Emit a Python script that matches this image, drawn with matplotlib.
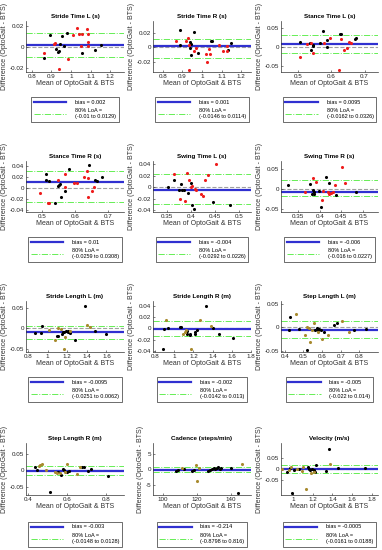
import matplotlib
matplotlib.use("Agg")
import matplotlib.pyplot as plt
from matplotlib.lines import Line2D

# ---------------- data ----------------
titles = ["Stride Time L (s)", "Stride Time R (s)", "Stance Time L (s)",
          "Stance Time R (s)", "Swing Time L (s)", "Swing Time R (s)",
          "Stride Length L (m)", "Stride Length R (m)", "Step Length L (m)",
          "Step Length R (m)", "Cadence (steps/min)", "Velocity (m/s)"]

bias = [0.002, 0.001, 0.0095, 0.01, -0.004, -0.006,
        -0.0095, -0.002, -0.005, -0.003, -0.214, -0.0005]
loa_low = [-0.01, -0.0146, -0.0162, -0.0259, -0.0292, -0.016,
           -0.0251, -0.0142, -0.022, -0.0148, -0.8798, -0.0161]
loa_high = [0.0129, 0.0114, 0.0326, 0.0308, 0.0226, 0.0227,
            0.0062, 0.013, 0.014, 0.0128, 0.816, 0.0188]
bias_txt = ["0.002", "0.001", "0.0095", "0.01", "-0.004", "-0.006",
            "-0.0095", "-0.002", "-0.005", "-0.003", "-0.214", "-0.0005"]
loa_txt = ["(-0.01 to 0.0129)", "(-0.0146 to 0.0114)", "(-0.0162 to 0.0326)",
           "(-0.0259 to 0.0308)", "(-0.0292 to 0.0226)", "(-0.016 to 0.0227)",
           "(-0.0251 to 0.0062)", "(-0.0142 to 0.013)", "(-0.022 to 0.014)",
           "(-0.0148 to 0.0128)", "(-0.8798 to 0.816)", "(-0.0161 to 0.0188)"]

# Stride Time L
stl_kx = [0.894, 0.861, 0.924, 0.933, 0.938, 0.941, 0.955, 0.962, 0.977, 1.057, 1.120, 1.152]
stl_ky = [0.011, -0.011, -0.002, -0.005, -0.004, 0.003, 0.010, 0.0006, 0.0127, -0.0057, -0.003, 0.0013]
stl_cx = [0.861, 0.914, 0.919, 0.938, 0.984, 1.009, 1.030, 1.040, 1.057, 1.050, 1.081, 1.088, 1.088, 1.088]
stl_cy = [-0.006, 0.003, 0.004, -0.0216, -0.0117, 0.0114, 0.0178, 0.012, 0.012, 0.0006, 0.0165, 0.0117, 0.005, 0.0006]
# Stride Time R
str_kx = [0.889, 0.886, 0.940, 0.943, 0.937, 0.945, 0.959, 0.982, 1.044, 1.049, 1.135, 1.150]
str_ky = [0.023, 0.0027, 0.0068, 0.0045, -0.001, -0.0105, 0.0205, -0.008, 0.009, 0.008, -0.0036, 0.0055]
str_cx = [0.868, 0.930, 0.919, 0.935, 0.935, 0.957, 0.971, 1.021, 1.023, 1.039, 1.037, 1.088, 1.109, 1.125, 1.126]
str_cy = [0.009, 0.0127, 0.008, 0.003, -0.031, -0.0045, -0.0014, -0.009, -0.020, -0.009, -0.002, 0.003, -0.0055, -0.0055, 0.002]
# Stance Time L
sal_kx = [0.508, 0.537, 0.541, 0.546, 0.547, 0.566, 0.577, 0.588, 0.589, 0.626, 0.630, 0.672, 0.675]
sal_ky = [0.0125, 0.0098, -0.008, 0.0018, 0.005, 0.0098, 0.043, 0.018, 0.0, 0.036, 0.034, 0.022, 0.025]
sal_cx = [0.506, 0.527, 0.541, 0.547, 0.578, 0.597, 0.622, 0.628, 0.639, 0.647, 0.654, 0.660]
sal_cy = [-0.027, 0.007, 0.0116, -0.016, 0.0098, 0.024, -0.061, 0.0205, -0.009, -0.0036, 0.013, 0.011]
# Stance Time R
sar_kx = [0.510, 0.512, 0.521, 0.540, 0.547, 0.552, 0.554, 0.558, 0.570, 0.581, 0.644, 0.660, 0.667, 0.684]
sar_ky = [0.0255, 0.0145, 0.013, -0.027, 0.003, 0.0048, 0.0067, -0.016, -0.005, 0.0345, 0.041, 0.014, 0.012, 0.020]
sar_cx = [0.494, 0.516, 0.521, 0.547, 0.568, 0.569, 0.596, 0.607, 0.627, 0.640, 0.638, 0.640, 0.651, 0.657]
sar_cy = [-0.009, -0.028, -0.028, 0.015, 0.002, 0.0255, 0.008, 0.0097, 0.019, 0.018, 0.031, -0.017, -0.0055, 0.002]
# Swing Time L
swl_kx = [0.351, 0.364, 0.375, 0.378, 0.381, 0.384, 0.393, 0.400, 0.401, 0.405, 0.445, 0.481]
swl_ky = [0.001, 0.0126, -0.004, 0.005, -0.004, -0.005, -0.010, 0.008, -0.030, -0.038, -0.025, -0.031]
swl_cx = [0.364, 0.377, 0.387, 0.392, 0.396, 0.402, 0.399, 0.407, 0.410, 0.421, 0.424, 0.429, 0.435, 0.451]
swl_cy = [0.023, -0.0206, -0.0246, 0.0246, 0.013, 0.003, 0.0, -0.0034, -0.005, -0.011, -0.0154, 0.013, 0.0217, 0.040]
# Swing Time R
swr_kx = [0.326, 0.377, 0.384, 0.381, 0.387, 0.386, 0.399, 0.402, 0.414, 0.421, 0.438, 0.483]
swr_ky = [0.0098, 0.014, -0.003, -0.012, -0.006, -0.011, -0.004, -0.045, 0.032, 0.015, -0.015, -0.008]
swr_cx = [0.366, 0.385, 0.392, 0.405, 0.407, 0.419, 0.422, 0.427, 0.430, 0.436, 0.451, 0.458]
swr_cy = [-0.0057, 0.028, 0.019, -0.027, -0.004, -0.006, -0.011, -0.009, -0.006, 0.012, 0.057, 0.016]
# Stride Length L
sll_kx = [0.876, 0.929, 0.946, 1.096, 1.106, 1.143, 1.156, 1.169, 1.189, 1.205, 1.212, 1.232, 1.282, 1.379, 1.488, 1.598]
sll_ky = [-0.0115, -0.0115, 0.005, -0.020, -0.018, -0.013, -0.009, -0.010, -0.0065, -0.0065, -0.009, -0.0115, -0.028, 0.054, -0.0065, -0.0146]
sll_cx = [1.016, 1.072, 1.102, 1.136, 1.176, 1.169, 1.225, 1.399, 1.432]
sll_cy = [-0.003, -0.028, 0.0017, -0.0016, -0.021, -0.051, -0.0065, 0.009, 0.003]
# Stride Length R
slr_kx = [0.88, 0.89, 0.933, 1.063, 1.073, 1.13, 1.137, 1.163, 1.17, 1.213, 1.217, 1.233, 1.33, 1.407, 1.463, 1.613]
slr_ky = [-0.036, -0.001, 0.0006, 0.0018, 0.0024, -0.005, -0.0094, -0.012, -0.0094, -0.011, -0.0065, -0.0024, 0.0388, 0.0006, -0.011, -0.0165]
slr_cx = [0.917, 1.09, 1.11, 1.123, 1.18, 1.273, 1.383]
slr_cy = [0.014, -0.0094, -0.007, -0.0035, -0.036, 0.0153, 0.004]
# Step Length L
spl_kx = [0.423, 0.430, 0.475, 0.519, 0.560, 0.574, 0.577, 0.585, 0.592, 0.608, 0.664, 0.681, 0.772, 0.838]
spl_ky = [-0.005, 0.023, -0.0034, -0.047, -0.006, -0.002, -0.005, -0.004, -0.0054, -0.009, 0.0048, 0.0095, -0.0054, -0.0034]
spl_cx = [0.460, 0.509, 0.517, 0.528, 0.536, 0.547, 0.555, 0.581, 0.602, 0.632, 0.706, 0.745]
spl_cy = [0.028, -0.015, 0.0, -0.0014, -0.031, -0.005, 0.009, -0.009, -0.0245, -0.015, 0.0143, -0.010]
# Step Length R
spr_kx = [0.434, 0.448, 0.510, 0.551, 0.569, 0.581, 0.586, 0.600, 0.607, 0.677, 0.685, 0.708, 0.720, 0.810]
spr_ky = [0.009, 0.0, -0.067, -0.004, -0.014, 0.004, 0.002, -0.004, -0.002, 0.011, 0.011, -0.002, 0.003, -0.017]
spr_cx = [0.458, 0.463, 0.472, 0.494, 0.540, 0.550, 0.564, 0.591, 0.597, 0.651, 0.668]
spr_cy = [0.013, 0.016, 0.019, 0.0, -0.004, -0.008, -0.008, -0.006, 0.018, -0.012, 0.011]
# Cadence
cad_kx = [107.9, 108.9, 112.5, 116.8, 118.0, 126.4, 127.6, 128.8, 130.0, 130.7, 131.7, 132.4, 133.6, 134.3, 140.0, 144.4]
cad_ky = [-0.43, -0.2, 0.0, -0.43, -0.2, -0.65, -0.33, 0.1, 0.33, 0.0, 0.43, 0.87, 0.0, 0.43, 0.54, -7.6]
cad_cx = [111.3, 119.4, 120.2, 121.1, 146.5]
cad_cy = [0.33, 1.3, -3.8, 0.33, 1.63]
# Velocity
vel_kx = [0.943, 0.973, 0.992, 1.008, 1.057, 1.153, 1.16, 1.172, 1.191, 1.21, 1.221, 1.229, 1.332, 1.362, 1.458, 1.725]
vel_ky = [-0.011, 0.005, -0.109, -0.003, 0.0, 0.008, 0.0016, -0.003, 0.0016, -0.005, -0.014, 0.02, -0.009, 0.094, 0.005, 0.005]
vel_cx = [0.886, 0.962, 0.981, 1.038, 1.095, 1.107, 1.134, 1.183, 1.218, 1.37]
vel_cy = [0.003, -0.005, 0.0125, 0.0016, -0.008, 0.0125, -0.092, -0.019, -0.011, 0.023]

black_x = [stl_kx, str_kx, sal_kx, sar_kx, swl_kx, swr_kx, sll_kx, slr_kx, spl_kx, spr_kx, cad_kx, vel_kx]
black_y = [stl_ky, str_ky, sal_ky, sar_ky, swl_ky, swr_ky, sll_ky, slr_ky, spl_ky, spr_ky, cad_ky, vel_ky]
col_x = [stl_cx, str_cx, sal_cx, sar_cx, swl_cx, swr_cx, sll_cx, slr_cx, spl_cx, spr_cx, cad_cx, vel_cx]
col_y = [stl_cy, str_cy, sal_cy, sar_cy, swl_cy, swr_cy, sll_cy, slr_cy, spl_cy, spr_cy, cad_cy, vel_cy]

xlims = [(0.77, 1.27), (0.75, 1.25), (0.45, 0.74), (0.45, 0.75), (0.32, 0.525), (0.31, 0.535),
         (0.78, 1.78), (0.78, 1.8), (0.38, 0.9), (0.39, 0.89), (94, 152), (0.88, 1.86)]
ylims = [(-0.024, 0.0245), (-0.034, 0.036), (-0.067, 0.07), (-0.044, 0.049), (-0.043, 0.046), (-0.057, 0.071),
         (-0.058, 0.067), (-0.042, 0.048), (-0.052, 0.056), (-0.075, 0.083), (-8.3, 8.6), (-0.12, 0.122)]
xticks = [[0.8, 0.9, 1.0, 1.1, 1.2], [0.8, 0.9, 1.0, 1.1, 1.2], [0.5, 0.6, 0.7], [0.5, 0.6, 0.7],
          [0.35, 0.4, 0.45, 0.5], [0.35, 0.4, 0.45, 0.5], [0.8, 1.0, 1.2, 1.4, 1.6], [0.8, 1.0, 1.2, 1.4, 1.6, 1.8],
          [0.4, 0.5, 0.6, 0.7, 0.8], [0.4, 0.6, 0.8], [100, 120, 140], [1.0, 1.2, 1.4, 1.6, 1.8]]
xticklabels = [["0.8", "0.9", "1", "1.1", "1.2"], ["0.8", "0.9", "1", "1.1", "1.2"], ["0.5", "0.6", "0.7"],
               ["0.5", "0.6", "0.7"], ["0.35", "0.4", "0.45", "0.5"], ["0.35", "0.4", "0.45", "0.5"],
               ["0.8", "1", "1.2", "1.4", "1.6"], ["0.8", "1", "1.2", "1.4", "1.6", "1.8"],
               ["0.4", "0.5", "0.6", "0.7", "0.8"], ["0.4", "0.6", "0.8"], ["100", "120", "140"],
               ["1", "1.2", "1.4", "1.6", "1.8"]]
yticks = [[-0.02, 0, 0.02], [-0.02, 0, 0.02], [-0.05, 0, 0.05], [-0.04, -0.02, 0, 0.02, 0.04],
          [-0.04, -0.02, 0, 0.02, 0.04], [-0.05, 0, 0.05], [-0.05, 0, 0.05], [-0.04, -0.02, 0, 0.02, 0.04],
          [-0.05, 0, 0.05], [-0.05, 0, 0.05], [-5, 0, 5], [-0.05, 0, 0.05]]
yticklabels = [["-0.02", "0", "0.02"], ["-0.02", "0", "0.02"], ["-0.05", "0", "0.05"],
               ["-0.04", "-0.02", "0", "0.02", "0.04"], ["-0.04", "-0.02", "0", "0.02", "0.04"],
               ["-0.05", "0", "0.05"], ["-0.05", "0", "0.05"], ["-0.04", "-0.02", "0", "0.02", "0.04"],
               ["-0.05", "0", "0.05"], ["-0.05", "0", "0.05"], ["-5", "0", "5"], ["-0.05", "0", "0.05"]]

# ---------------- layout ----------------
W, H = 382, 550
plt.rcParams['font.family'] = ['Liberation Sans', 'DejaVu Sans']
fig = plt.figure(figsize=(W / 100, H / 100), dpi=100)

col_left = [26, 153, 281]
col_w = [98, 98, 97]
row_top = [21, 161, 301, 443]
row_h = [51, 51, 51, 52]
leg_top = [97, 237, 377, 522]

tick_fs = 4.5
lab_fs = 5.0
leg_fs = 4.0
for i in range(12):
    r, c = divmod(i, 3)
    ax = fig.add_axes([col_left[c] / W, 1 - (row_top[r] + row_h[r]) / H, col_w[c] / W, row_h[r] / H])
    pcol = '#ee1c1c' if r < 2 else '#a88a2e'
    ax.axhline(0, color='#a0a0a0', ls='--', lw=0.8, zorder=1)
    ax.scatter(black_x[i], black_y[i], s=5, c='black', zorder=3, linewidths=0)
    ax.scatter(col_x[i], col_y[i], s=5, c=pcol, zorder=3, linewidths=0)
    ax.axhline(bias[i], color='#3030d0', lw=1.6, zorder=2)
    ax.axhline(loa_low[i], color='#66ee55', ls='-.', lw=0.7, zorder=2)
    ax.axhline(loa_high[i], color='#66ee55', ls='-.', lw=0.7, zorder=2)
    ax.set_xlim(*xlims[i])
    ax.set_ylim(*ylims[i])
    ax.set_xticks(xticks[i])
    ax.set_xticklabels(xticklabels[i])
    ax.set_yticks(yticks[i])
    ax.set_yticklabels(yticklabels[i])
    for s in ['top', 'right']:
        ax.spines[s].set_visible(False)
    for s in ['left', 'bottom']:
        ax.spines[s].set_linewidth(0.5)
        ax.spines[s].set_color('#333333')
    ax.tick_params(labelsize=tick_fs, length=1.5, width=0.4, pad=1.5, colors='#222222', direction='in')
    ax.set_title(titles[i], fontsize=4.5, fontweight='bold', pad=2.5)
    ax.set_xlabel("Mean of OptoGait & BTS", fontsize=lab_fs, labelpad=1, color='#333333')
    ax.set_ylabel("Difference (OptoGait - BTS)", fontsize=lab_fs, labelpad=1, color='#333333')
    handles = [Line2D([], [], color='#3030d0', lw=1.6),
               Line2D([], [], color='#66ee55', ls='-.', lw=0.7)]
    labels = ["bias = " + bias_txt[i], "80% LoA =\n" + loa_txt[i]]
    cx = (col_left[c] + col_w[c] / 2) / W
    leg = ax.legend(handles, labels, loc='upper center', bbox_to_anchor=(cx, 1 - leg_top[r] / H),
                    bbox_transform=fig.transFigure, fontsize=leg_fs, handlelength=5.8, handletextpad=1.6,
                    borderpad=0.45, labelspacing=0.55, frameon=True, fancybox=False, framealpha=1,
                    borderaxespad=0)
    for t in leg.get_texts():
        t.set_linespacing(1.45)
    leg.get_frame().set_linewidth(0.5)
    leg.get_frame().set_edgecolor('#333333')

fig.savefig("out.png", dpi=100)
